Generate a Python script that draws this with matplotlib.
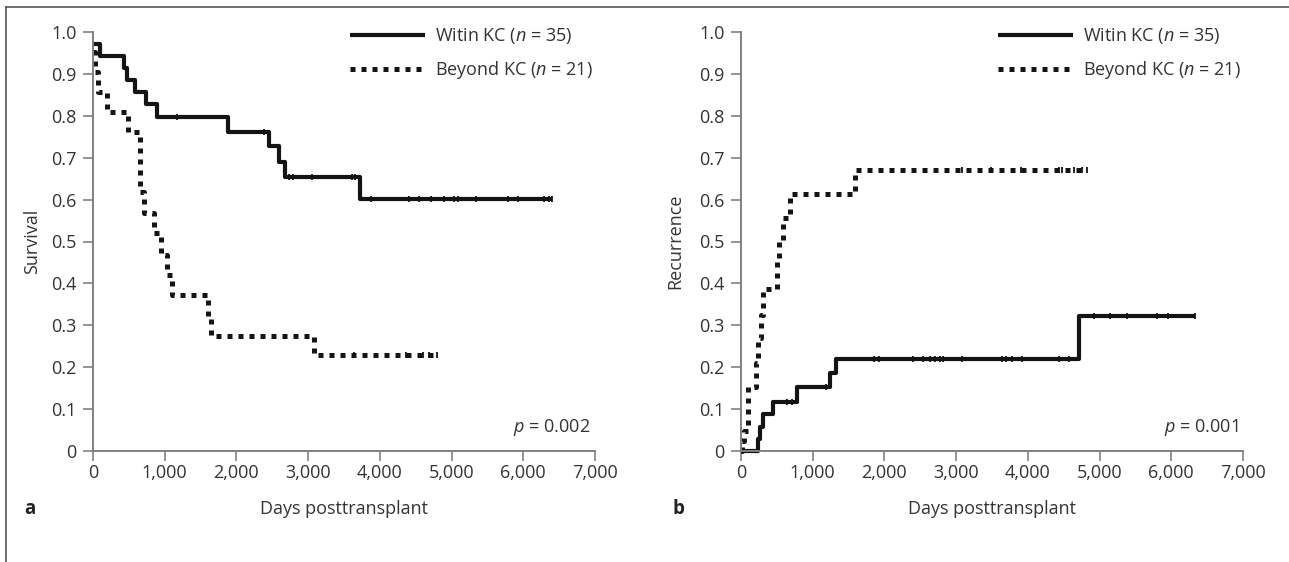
import numpy as np
import matplotlib
matplotlib.use("Agg")
import matplotlib.pyplot as plt
from matplotlib.lines import Line2D

plt.rcParams["font.family"] = ["Open Sans", "DejaVu Sans"]
plt.rcParams["mathtext.fontset"] = "custom"
plt.rcParams["mathtext.rm"] = "Open Sans"
plt.rcParams["mathtext.it"] = "Open Sans:italic"

# Panel a: survival
surv_within_t = [0, 98, 433, 470, 587, 735, 890, 1880, 2450, 2590, 2680, 3730]
surv_within_v = [0.971, 0.943, 0.914, 0.886, 0.857, 0.829, 0.797, 0.762, 0.727, 0.690, 0.655, 0.601]
surv_within_end = 6405
surv_within_cens = [1168, 2380, 2730, 2795, 3050, 3610, 3660, 3880, 4400, 4550, 4710,
                    4890, 5040, 5090, 5335, 5780, 5920, 6290, 6360, 6405]

surv_beyond_t = [0, 30, 75, 190, 490, 655, 712, 850, 945, 1030, 1100, 1600, 1650, 3080]
surv_beyond_v = [0.952, 0.905, 0.857, 0.810, 0.762, 0.619, 0.568, 0.520, 0.468, 0.420,
                 0.372, 0.323, 0.274, 0.228]
surv_beyond_end = 4800
surv_beyond_cens = [3640, 4370, 4600, 4680, 4800]

# Panel b: recurrence
rec_within_t = [0, 240, 265, 310, 440, 780, 1240, 1330, 4710]
rec_within_v = [0, 0.029, 0.058, 0.088, 0.118, 0.153, 0.185, 0.220, 0.322]
rec_within_end = 6330
rec_within_cens = [640, 710, 1180, 1860, 1930, 2400, 2540, 2630, 2710, 2780, 2820, 3080,
                   3640, 3700, 3780, 3920, 4440, 4570, 4920, 5140, 5380, 5800, 5960, 6330]

rec_beyond_t = [0, 15, 40, 100, 210, 240, 280, 310, 500, 525, 590, 690, 1590]
rec_beyond_v = [0, 0.024, 0.048, 0.153, 0.209, 0.269, 0.325, 0.386, 0.45, 0.50, 0.555,
                0.613, 0.671]
rec_beyond_end = 4830
rec_beyond_cens = [3080, 3480, 3900, 4430, 4480, 4640, 4750, 4830]

y_ticks = [0, 0.1, 0.2, 0.3, 0.4, 0.5, 0.6, 0.7, 0.8, 0.9, 1.0]
y_labels = ["0", "0.1", "0.2", "0.3", "0.4", "0.5", "0.6", "0.7", "0.8", "0.9", "1.0"]
x_ticks = [0, 1000, 2000, 3000, 4000, 5000, 6000, 7000]
x_labels = ["0", "1,000", "2,000", "3,000", "4,000", "5,000", "6,000", "7,000"]

label_within = r"Witin KC ($\mathit{n}$ = 35)"
label_beyond = r"Beyond KC ($\mathit{n}$ = 21)"

grey = "#808080"
txt = "#333333"
ink = "#141414"
fs = 13


def step_value(t, times, vals):
    i = np.searchsorted(times, t, side="right") - 1
    return np.asarray(vals)[i]


def km(ax, times, vals, end, cens, dotted, label):
    xs = list(times) + [end]
    ys = list(vals) + [vals[-1]]
    kw = dict(color=ink, lw=3.6 if dotted else 3.0, clip_on=False, label=label,
              solid_capstyle="butt", dash_capstyle="butt")
    if dotted:
        kw["dashes"] = (1.0, 1.2)
    ax.step(xs, ys, where="post", **kw)
    cy = step_value(np.array(cens), times, vals)
    ax.plot(cens, cy, ls="none", marker="|", ms=5, mew=1.3, color=ink, clip_on=False)


def style(ax, ylabel, ylab_x, ptext, letter):
    ax.set_xlim(0, 7000)
    ax.set_ylim(0, 1)
    for s in ["top", "right"]:
        ax.spines[s].set_visible(False)
    for s in ["left", "bottom"]:
        ax.spines[s].set_color(grey)
        ax.spines[s].set_linewidth(1.4)
    ax.set_yticks(y_ticks)
    ax.set_yticklabels(y_labels)
    ax.set_xticks(x_ticks)
    ax.set_xticklabels(x_labels)
    ax.tick_params(direction="out", length=7, width=1.2, color=grey,
                   labelcolor=txt, labelsize=fs)
    ax.tick_params(axis="y", pad=5)
    ax.tick_params(axis="x", pad=2)
    ax.set_ylabel(ylabel, fontsize=fs, color=txt)
    ax.yaxis.set_label_coords(ylab_x, 0.5)
    ax.text(0.5, -0.138, "Days posttransplant", transform=ax.transAxes,
            ha="center", va="center", fontsize=fs, color=txt)
    ax.text(0.99, 0.057, r"$\mathit{p}$ = " + ptext, transform=ax.transAxes,
            ha="right", va="center", fontsize=fs, color=txt)
    ax.text(-0.125, -0.138, letter, transform=ax.transAxes, ha="center",
            va="center", fontsize=13.5, fontweight="bold", color="#222222")
    leg = ax.legend(loc="upper right", bbox_to_anchor=(0.995, 1.014), frameon=False,
                    fontsize=fs, handlelength=4.15, handletextpad=0.55,
                    labelspacing=0.72, borderpad=0, borderaxespad=0)
    for t in leg.get_texts():
        t.set_color(txt)


fig = plt.figure(figsize=(12.89, 5.62), dpi=100)
ax1 = fig.add_axes([93 / 1289, 111 / 562, 502 / 1289, 419 / 562])
ax2 = fig.add_axes([741 / 1289, 111 / 562, 502 / 1289, 419 / 562])

km(ax1, surv_within_t, surv_within_v, surv_within_end, surv_within_cens, False, label_within)
km(ax1, surv_beyond_t, surv_beyond_v, surv_beyond_end, surv_beyond_cens, True, label_beyond)
style(ax1, "Survival", -0.104, "0.002", "a")

km(ax2, rec_within_t, rec_within_v, rec_within_end, rec_within_cens, False, label_within)
km(ax2, rec_beyond_t, rec_beyond_v, rec_beyond_end, rec_beyond_cens, True, label_beyond)
style(ax2, "Recurrence", -0.114, "0.001", "b")

# frame on top and left edge
fig.add_artist(Line2D([6 / 1289, 1], [1 - 7 / 562, 1 - 7 / 562], color="#555555", lw=1.2))
fig.add_artist(Line2D([6 / 1289, 6 / 1289], [0, 1 - 7 / 562], color="#555555", lw=1.2))

fig.savefig("out.png", dpi=100)
